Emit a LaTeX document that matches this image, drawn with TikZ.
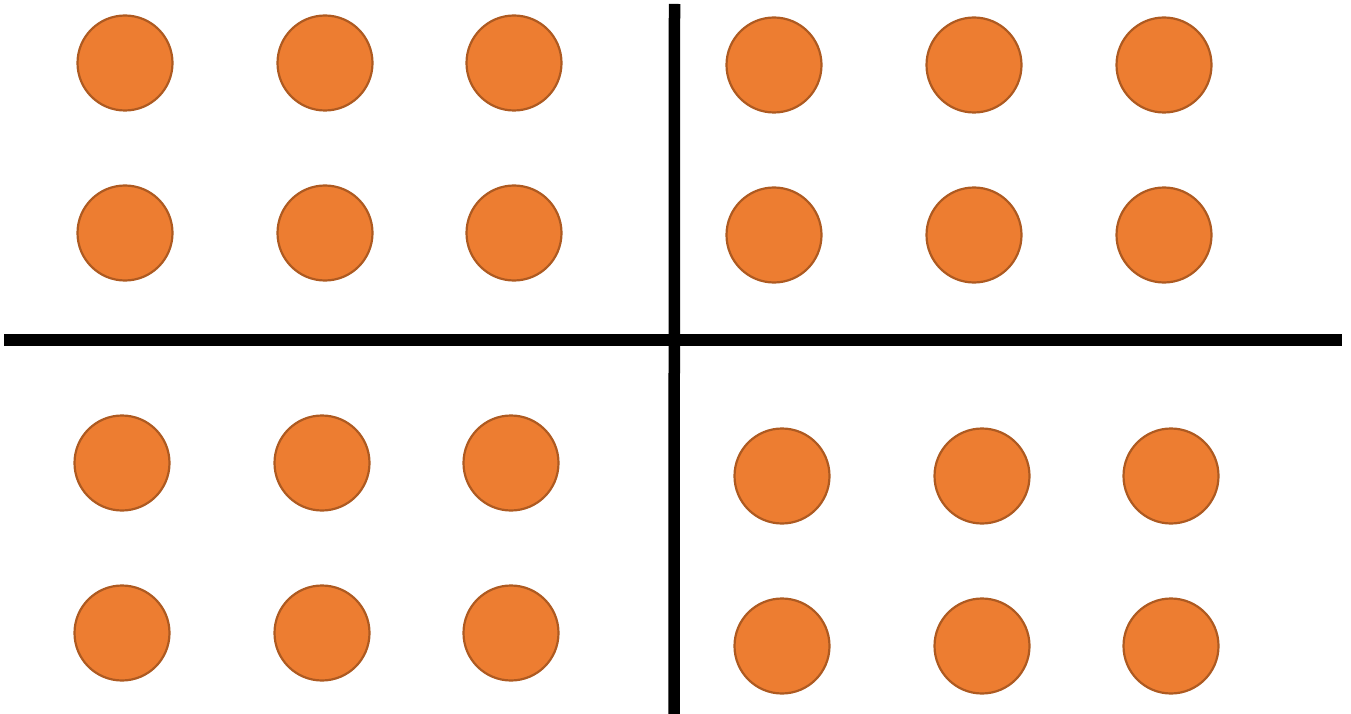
\documentclass[tikz,border=0pt]{standalone}
\definecolor{dotfill}{HTML}{ED7D31}
\definecolor{dotedge}{HTML}{AE5A21}
\begin{document}
\begin{tikzpicture}[x=1pt,y=-1pt,
  dot/.style={circle,fill=dotfill,draw=dotedge,line width=2.2pt,minimum size=95pt,inner sep=0pt},
  divider/.style={line width=11.5pt,black}]
\useasboundingbox (0,0) rectangle (1351,714);
% top-left
\foreach \x [count=\i] in {125,325,514}{
  \node[dot] (tla\i) at (\x,63) {};
  \node[dot] (tlb\i) at (\x,233) {};
}
% top-right
\foreach \x [count=\i] in {774,974,1164}{
  \node[dot] (tra\i) at (\x,65) {};
  \node[dot] (trb\i) at (\x,235) {};
}
% bottom-left
\foreach \x [count=\i] in {122,322,511}{
  \node[dot] (bla\i) at (\x,463) {};
  \node[dot] (blb\i) at (\x,633) {};
}
% bottom-right
\foreach \x [count=\i] in {782,982,1171}{
  \node[dot] (bra\i) at (\x,476) {};
  \node[dot] (brb\i) at (\x,646) {};
}
\coordinate (vtop) at (674.5,4);
\coordinate (vbot) at (674,714);
\coordinate (hl) at (4,340);
\coordinate (hr) at (1341.5,340);
\draw[divider] (vtop) -- (vbot);
\draw[divider] (hl) -- (hr);
\end{tikzpicture}
\end{document}
